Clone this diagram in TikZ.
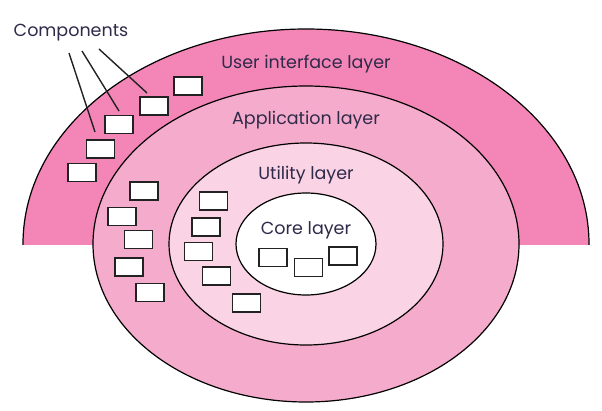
\documentclass[tikz,border=0pt]{standalone}
\usepackage{fontspec}
\setmainfont{Poppins}
\definecolor{uipink}{HTML}{F386B6}
\definecolor{apppink}{HTML}{F5ABCB}
\definecolor{utilpink}{HTML}{FAD3E5}
\definecolor{txt}{HTML}{2E2A4A}
\definecolor{edge}{HTML}{222222}
\begin{document}
\begin{tikzpicture}[x=1pt,y=-1pt,
  comp/.style={draw=edge,line width=1.8pt,fill=white,minimum width=28pt,minimum height=18pt,inner sep=0pt},
  lbl/.style={text=txt,font=\fontsize{17.5}{20}\selectfont,inner sep=0pt},
  ring/.style={draw=black,line width=1.2pt},
  pointer/.style={draw=edge,line width=1.4pt}]
\useasboundingbox (0,0) rectangle (602,410);
% user interface layer (half ellipse)
\begin{scope}
  \clip (0,0) rectangle (602,244);
  \path[ring,fill=uipink] (306,244) ellipse [x radius=283pt, y radius=215pt];
\end{scope}
\path[ring,fill=apppink] (306,244) ellipse [x radius=213pt, y radius=158pt];
\path[ring,fill=utilpink] (306,244) ellipse [x radius=137pt, y radius=101pt];
\path[ring,fill=white] (306,244) ellipse [x radius=70pt, y radius=51pt];
% labels
\node[lbl] (ui) at (306,64) {User interface layer};
\node[lbl] (app) at (306,120) {Application layer};
\node[lbl] (util) at (306,175) {Utility layer};
\node[lbl] (core) at (306,230) {Core layer};
\node[lbl] (comps) at (71,33) {Components};
% components in UI layer
\node[comp] (A) at (188,86) {};
\node[comp] (B) at (154,106) {};
\node[comp] (C) at (119,124.5) {};
\node[comp] (D) at (100.5,149) {};
\node[comp] (E) at (82,172.5) {};
% application layer
\node[comp] (F) at (144,191) {};
\node[comp] (G) at (122,216.5) {};
\node[comp] (H) at (138.5,239.5) {};
\node[comp] (I) at (129,267) {};
\node[comp] (J) at (150,292.5) {};
% utility layer
\node[comp] (K) at (213.5,201) {};
\node[comp] (L) at (206,227) {};
\node[comp] (M) at (198.5,251.5) {};
\node[comp] (N) at (216.5,276) {};
\node[comp] (O) at (246.5,303) {};
% core layer
\node[comp] (P) at (273,257.5) {};
\node[comp] (Q) at (308.5,267.5) {};
\node[comp] (R) at (343,256) {};
% pointers
\coordinate (s1) at (69,53);
\coordinate (s2) at (82,51);
\coordinate (s3) at (99,49);
\coordinate (e1) at (95,132);
\coordinate (e2) at (119,111);
\coordinate (e3) at (147,93);
\draw[pointer] (s1) -- (e1);
\draw[pointer] (s2) -- (e2);
\draw[pointer] (s3) -- (e3);
\end{tikzpicture}
\end{document}
